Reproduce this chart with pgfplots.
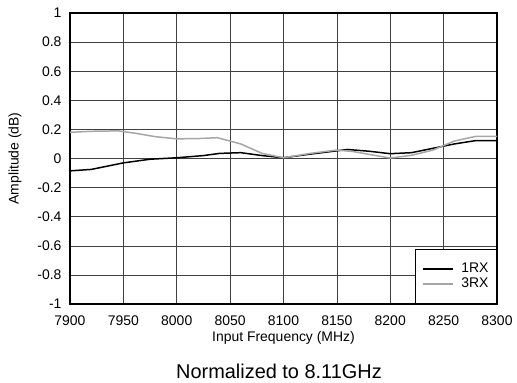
\documentclass[border=0pt]{standalone}
\usepackage{fontspec}
\setmainfont{Liberation Sans}
\usepackage{pgfplots}
\pgfplotsset{compat=1.18}
\begin{document}
\begin{tikzpicture}
\path[use as bounding box] (-70bp,-79bp) rectangle (447bp,304bp);
\begin{axis}[
  at={(0,0)}, anchor=south west,
  scale only axis, width=427bp, height=291bp,
  xmin=7900, xmax=8300, ymin=-1, ymax=1,
  xtick={7900,7950,8000,8050,8100,8150,8200,8250,8300},
  ytick={-1,-0.8,-0.6,-0.4,-0.2,0,0.2,0.4,0.6,0.8,1},
  /pgf/number format/assume math mode=true,
  /pgf/number format/1000 sep={},
  /pgf/number format/fixed,
  tick label style={font=\fontsize{14}{16}\selectfont},
  xticklabel style={yshift=-8bp},
  yticklabel style={xshift=-5bp},
  major tick length=0pt,
  grid=major,
  major grid style={black!75, line width=0.6pt},
  axis line style={line width=1.6pt},
  xlabel={Input Frequency (MHz)},
  ylabel={Amplitude (dB)},
  label style={font=\fontsize{14}{16}\selectfont},
  xlabel style={at={(axis description cs:0.5,-0.117)}, anchor=center},
  ylabel style={at={(axis description cs:-0.129,0.5)}, anchor=center},
  legend style={at={(rel axis cs:1,0)}, anchor=south east, draw=black, line width=1.2pt,
    font=\fontsize{14}{16}\selectfont, inner xsep=6bp, inner ysep=12bp, row sep=0bp},
  legend image code/.code={\draw[#1, line width=1.8pt] (0bp,0bp) -- (30bp,0bp); \path (36bp,0bp);},
]
\addplot[black, line width=1.5pt] coordinates {
(7900,-0.085) (7920,-0.075) (7950,-0.03) (7975,-0.005) (8000,0.005) (8025,0.02)
(8040,0.035) (8060,0.04) (8080,0.02) (8100,0.005) (8125,0.03) (8160,0.062)
(8180,0.05) (8200,0.033) (8220,0.04) (8240,0.07) (8260,0.1) (8280,0.123) (8300,0.123)
};
\addlegendentry{1RX}
\addplot[black!35, line width=1.5pt] coordinates {
(7900,0.18) (7920,0.187) (7945,0.19) (7960,0.175) (7980,0.15) (8000,0.135)
(8020,0.137) (8038,0.143) (8060,0.1) (8080,0.035) (8100,0.005) (8125,0.035)
(8150,0.058) (8165,0.048) (8200,0.003) (8220,0.022) (8240,0.058) (8260,0.12)
(8280,0.152) (8300,0.152)
};
\addlegendentry{3RX}
\end{axis}
\node[font=\fontsize{20}{24}\selectfont] at (209bp,-67bp) {Normalized to 8.11GHz};
\end{tikzpicture}
\end{document}
